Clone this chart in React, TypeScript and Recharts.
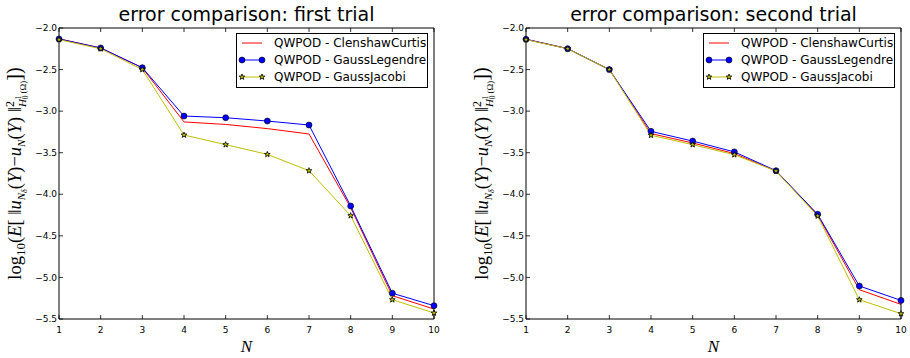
import React from 'react';
import { LineChart, Line, XAxis, YAxis, Legend, Label } from 'recharts';

// number of reduced basis functions
const N_VALUES = [1, 2, 3, 4, 5, 6, 7, 8, 9, 10];

// log10 of the expected squared H1_0 error, first trial
const FIRST_CC = [-2.13, -2.24, -2.48, -3.13, -3.16, -3.21, -3.275, -4.16, -5.22, -5.38];
const FIRST_GL = [-2.132, -2.24, -2.477, -3.059, -3.079, -3.119, -3.167, -4.141, -5.19, -5.34];
const FIRST_GJ = [-2.14, -2.25, -2.5, -3.287, -3.403, -3.52, -3.716, -4.257, -5.268, -5.428];

// second trial
const SECOND_CC = [-2.135, -2.248, -2.5, -3.27, -3.383, -3.51, -3.72, -4.25, -5.148, -5.324];
const SECOND_GL = [-2.136, -2.249, -2.5, -3.243, -3.36, -3.49, -3.716, -4.241, -5.103, -5.276];
const SECOND_GJ = [-2.14, -2.25, -2.5, -3.29, -3.403, -3.524, -3.72, -4.261, -5.268, -5.436];

const Y_TICKS = [-5.5, -5.0, -4.5, -4.0, -3.5, -3.0, -2.5, -2.0];
const SERIES_NAMES = ['QWPOD - ClenshawCurtis', 'QWPOD - GaussLegendre', 'QWPOD - GaussJacobi'];

const RED = '#ff0000';
const BLUE = '#0000ff';
const OLIVE = '#bfbf00';
const TICK_FONT = 'DejaVu Sans, sans-serif';
const MATH_FONT = 'Liberation Serif, serif';

const fmt = (v: number) => v.toFixed(1).replace('-', '\u2212');

const starPath = (cx: number, cy: number, r: number) => {
  const pts: string[] = [];
  for (let i = 0; i < 10; i++) {
    const rad = i % 2 === 0 ? r : r * 0.42;
    const a = -Math.PI / 2 + (i * Math.PI) / 5;
    pts.push(`${(cx + rad * Math.cos(a)).toFixed(2)},${(cy + rad * Math.sin(a)).toFixed(2)}`);
  }
  return `M${pts.join('L')}Z`;
};

const CircleDot = (props: any) => {
  const { cx, cy, index } = props;
  if (cx == null || cy == null) return null;
  return <circle key={index} cx={cx} cy={cy} r={3} fill={BLUE} stroke="#000" strokeWidth={0.6} />;
};

const StarDot = (props: any) => {
  const { cx, cy, index } = props;
  if (cx == null || cy == null) return null;
  return <path key={index} d={starPath(cx, cy, 3)} fill={OLIVE} stroke="#000" strokeWidth={0.8} />;
};

// inward ticks, matplotlib classic look
const BottomTick = ({ x, y, payload }: any) => (
  <g>
    <line x1={x} x2={x} y1={y} y2={y - 4} stroke="#000" strokeWidth={0.8} />
    <text x={x} y={y + 14} textAnchor="middle" fontSize={9} fontFamily={TICK_FONT} fill="#000">
      {payload.value}
    </text>
  </g>
);

const TopTick = ({ x, y }: any) => (
  <line x1={x} x2={x} y1={y} y2={y + 4} stroke="#000" strokeWidth={0.8} />
);

const LeftTick = ({ x, y, payload }: any) => (
  <g>
    <line x1={x} x2={x + 4} y1={y} y2={y} stroke="#000" strokeWidth={0.8} />
    <text x={x - 2} y={y + 3.2} textAnchor="end" fontSize={9} fontFamily={TICK_FONT} fill="#000">
      {fmt(payload.value)}
    </text>
  </g>
);

const RightTick = ({ x, y }: any) => (
  <line x1={x} x2={x - 4} y1={y} y2={y} stroke="#000" strokeWidth={0.8} />
);

const YLabel = ({ viewBox }: any) => {
  const cx = viewBox.x + 2;
  const cy = viewBox.y + viewBox.height / 2;
  return (
    <text transform={`translate(${cx},${cy}) rotate(-90)`} textAnchor="middle" fontFamily={MATH_FONT} fontSize={18.5} fill="#000">
      <tspan>log</tspan>
      <tspan fontSize={13} dy={4}>10</tspan>
      <tspan dy={-4}>(</tspan>
      <tspan fontStyle="italic">E</tspan>
      <tspan>[ ‖</tspan>
      <tspan fontStyle="italic">u</tspan>
      <tspan fontSize={11} fontStyle="italic" dy={3.5}>N</tspan>
      <tspan fontSize={8} fontStyle="italic" dy={2.5}>δ</tspan>
      <tspan dy={-6}>(</tspan>
      <tspan fontStyle="italic">Y</tspan>
      <tspan>)−</tspan>
      <tspan fontStyle="italic">u</tspan>
      <tspan fontSize={11} fontStyle="italic" dy={3.5}>N</tspan>
      <tspan dy={-3.5}>(</tspan>
      <tspan fontStyle="italic">Y</tspan>
      <tspan>) ‖</tspan>
      <tspan fontSize={12} dy={-7}>2</tspan>
      <tspan fontSize={11} fontStyle="italic" dx={-6} dy={12}>H</tspan>
      <tspan fontSize={7.5} dy={2}>0</tspan>
      <tspan fontSize={7.5} dx={-4} dy={-7}>1</tspan>
      <tspan fontSize={9} dy={5}> (Ω)</tspan>
      <tspan fontSize={20} dy={-5}>])</tspan>
    </text>
  );
};

const XLabel = ({ viewBox }: any) => (
  <text x={viewBox.x + viewBox.width / 2} y={viewBox.y + 32.5} textAnchor="middle" fontFamily={MATH_FONT} fontStyle="italic" fontSize={17} fill="#000">
    N
  </text>
);

const makeTitle = (title: string) => ({ viewBox }: any) => (
  <text x={viewBox.x + viewBox.width / 2} y={viewBox.y - 6.5} textAnchor="middle" fontFamily={TICK_FONT} fontSize={19} fill="#000">
    {title}
  </text>
);

const LegendMarker = ({ idx, x, y }: { idx: number; x: number; y: number }) => {
  if (idx === 1) return <circle cx={x} cy={y} r={3} fill={BLUE} stroke="#000" strokeWidth={0.6} />;
  if (idx === 2) return <path d={starPath(x, y, 3)} fill={OLIVE} stroke="#000" strokeWidth={0.8} />;
  return null;
};

const LegendBox = () => {
  const colors = [RED, BLUE, OLIVE];
  return (
    <div style={{ width: 190, height: 53, border: '1px solid #000', background: '#fff', position: 'relative', fontFamily: TICK_FONT, fontSize: 12 }}>
      {SERIES_NAMES.map((name, i) => (
        <div key={name} style={{ position: 'absolute', left: 0, top: 1 + i * 17, height: 16, display: 'flex', alignItems: 'center', whiteSpace: 'nowrap' }}>
          <svg width={37} height={16} style={{ display: 'block' }}>
            <line x1={5} x2={25} y1={8} y2={8} stroke={colors[i]} strokeWidth={1} />
            <LegendMarker idx={i} x={5} y={8} />
            <LegendMarker idx={i} x={25} y={8} />
          </svg>
          <span>{name}</span>
        </div>
      ))}
    </div>
  );
};

const ErrorPanel = ({ title, cc, gl, gj }: { title: string; cc: number[]; gl: number[]; gj: number[] }) => {
  const data = N_VALUES.map((n, i) => ({ n, cc: cc[i], gl: gl[i], gj: gj[i] }));
  return (
    <LineChart width={443} height={358} data={data} margin={{ top: 27, right: 8, bottom: 19, left: 19 }}>
      <XAxis
        dataKey="n"
        type="number"
        domain={[1, 10]}
        ticks={N_VALUES}
        tickSize={0}
        tickMargin={0}
        tick={<BottomTick />}
        axisLine={{ stroke: '#000', strokeWidth: 1 }}
        height={20}
        interval={0}
      >
        <Label content={<XLabel />} />
      </XAxis>
      <XAxis
        xAxisId="top"
        orientation="top"
        dataKey="n"
        type="number"
        domain={[1, 10]}
        ticks={N_VALUES}
        tickSize={0}
        tickMargin={0}
        tick={<TopTick />}
        axisLine={{ stroke: '#000', strokeWidth: 1 }}
        height={1}
        interval={0}
      >
        <Label content={makeTitle(title)} />
      </XAxis>
      <YAxis
        type="number"
        domain={[-5.5, -2.0]}
        ticks={Y_TICKS}
        tickSize={0}
        tickMargin={0}
        tick={<LeftTick />}
        axisLine={{ stroke: '#000', strokeWidth: 1 }}
        width={40}
        interval={0}
        allowDataOverflow
      >
        <Label content={<YLabel />} />
      </YAxis>
      <YAxis
        yAxisId="right"
        orientation="right"
        type="number"
        domain={[-5.5, -2.0]}
        ticks={Y_TICKS}
        tickSize={0}
        tickMargin={0}
        tick={<RightTick />}
        axisLine={{ stroke: '#000', strokeWidth: 1 }}
        width={1}
        interval={0}
      />
      <Legend
        layout="vertical"
        align="center"
        verticalAlign="middle"
        content={<LegendBox />}
        wrapperStyle={{ left: 236, top: 33, width: 192, height: 55 }}
      />
      <Line type="linear" dataKey="cc" name={SERIES_NAMES[0]} stroke={RED} strokeWidth={1} dot={false} isAnimationActive={false} />
      <Line type="linear" dataKey="gl" name={SERIES_NAMES[1]} stroke={BLUE} strokeWidth={1} dot={<CircleDot />} isAnimationActive={false} />
      <Line type="linear" dataKey="gj" name={SERIES_NAMES[2]} stroke={OLIVE} strokeWidth={1} dot={<StarDot />} isAnimationActive={false} />
    </LineChart>
  );
};

export default function App() {
  return (
    <div style={{ position: 'absolute', left: 0, top: 0, width: 910, height: 358, background: '#fff' }}>
      <div style={{ position: 'absolute', left: 0, top: 0 }}>
        <ErrorPanel title="error comparison: first trial" cc={FIRST_CC} gl={FIRST_GL} gj={FIRST_GJ} />
      </div>
      <div style={{ position: 'absolute', left: 467, top: 0 }}>
        <ErrorPanel title="error comparison: second trial" cc={SECOND_CC} gl={SECOND_GL} gj={SECOND_GJ} />
      </div>
    </div>
  );
}
